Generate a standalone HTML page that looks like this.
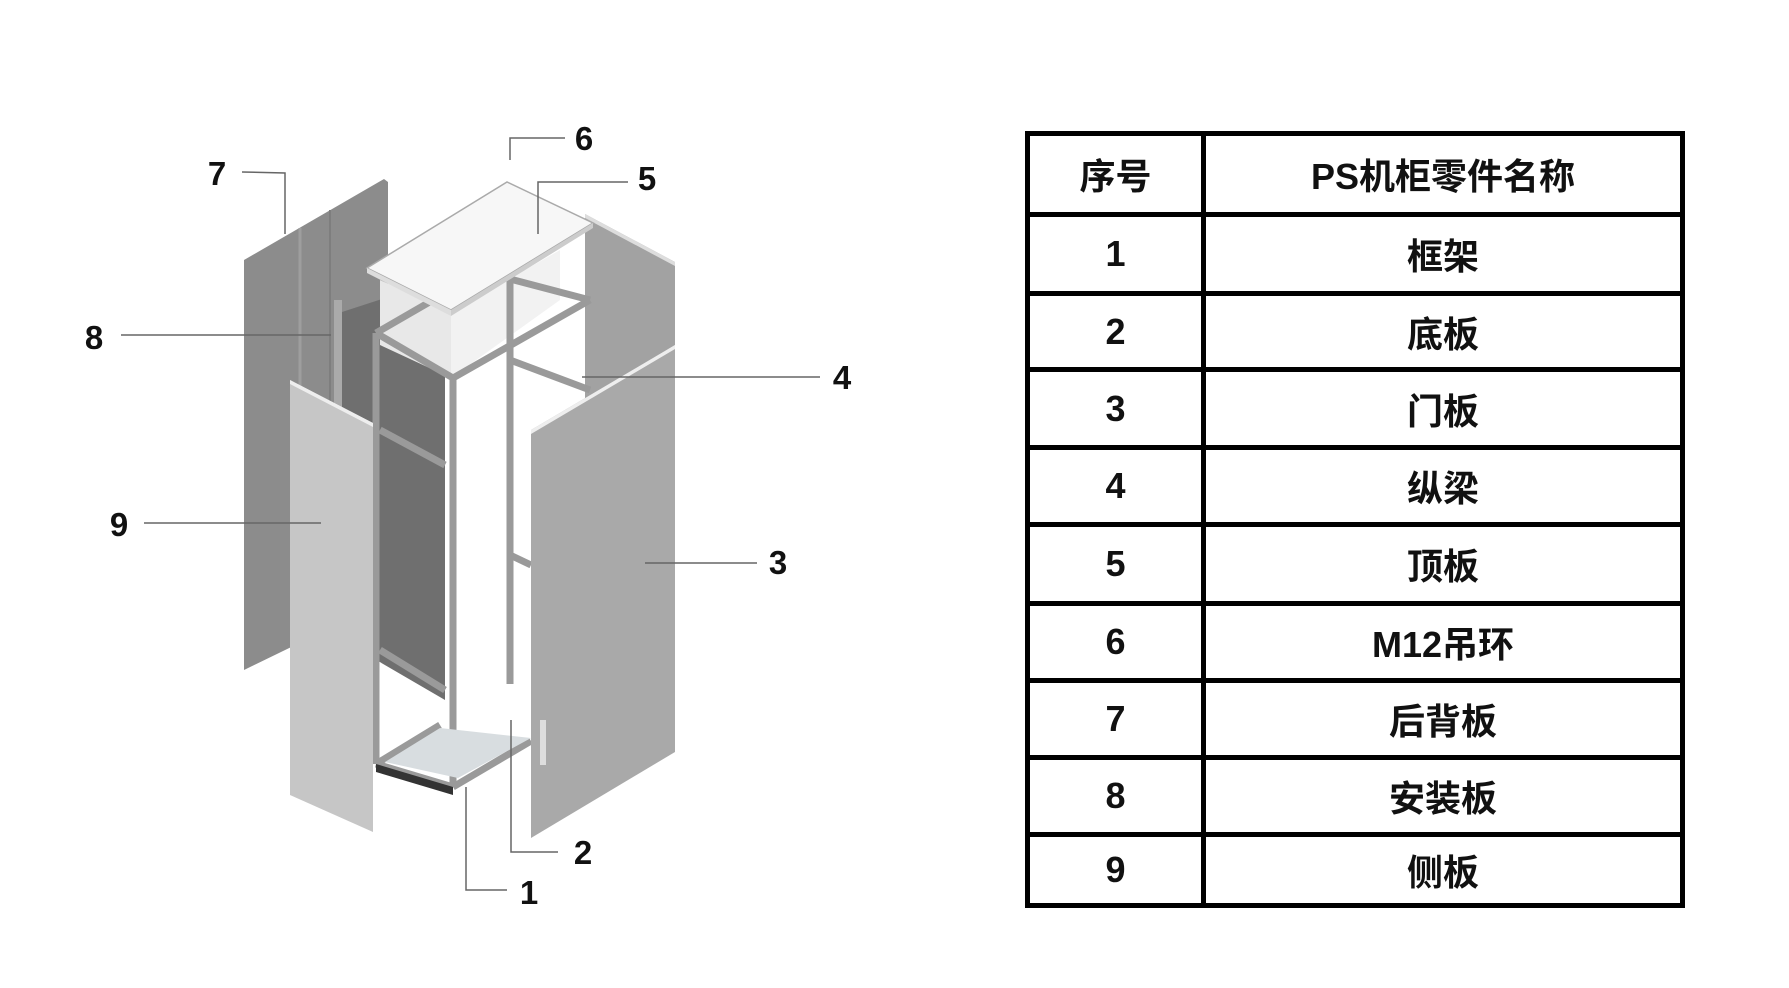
<!DOCTYPE html>
<html><head><meta charset="utf-8"><style>
body{margin:0;width:1789px;height:988px;background:#fff;overflow:hidden;position:relative;font-family:"Liberation Sans","Noto Sans CJK SC",sans-serif;}
table{position:absolute;left:1025px;top:131px;border-collapse:collapse;}
td{border:5px solid #000;text-align:center;font-weight:bold;font-size:36px;color:#111;padding:0;}
</style></head><body>
<svg width="1789" height="988" style="position:absolute;left:0;top:0">
<g stroke="none">
<polygon points="244,260 384,179 388,182 388,600 244,670" fill="#8c8c8c"/>
<line x1="300" y1="228" x2="300" y2="640" stroke="#9e9e9e" stroke-width="3"/>
<line x1="330" y1="210" x2="330" y2="620" stroke="#7e7e7e" stroke-width="2"/>
<polygon points="585,214 675,262 675,345 585,400" fill="#a2a2a2"/>
<polygon points="585,214 675,262 675,266 585,218" fill="#ddd"/>
<polygon points="342,312 410,290 445,312 445,700 342,640" fill="#6f6f6f"/>
<rect x="334" y="300" width="8" height="300" fill="#aaa"/>
<polygon points="380,280 451,312 451,378 380,345" fill="#e8e8e8"/>
<polygon points="451,312 560,250 560,300 451,378" fill="#f2f2f2"/>
<g stroke="#9a9a9a" stroke-width="7" fill="none">
<line x1="376" y1="333" x2="376" y2="764"/>
<line x1="453" y1="378" x2="453" y2="787"/>
<line x1="510" y1="279" x2="510" y2="684"/>
<line x1="376" y1="333" x2="453" y2="378"/>
<line x1="453" y1="378" x2="590" y2="300"/>
<line x1="376" y1="333" x2="440" y2="296"/>
<line x1="510" y1="279" x2="590" y2="300"/>
<line x1="376" y1="764" x2="453" y2="787"/>
<line x1="453" y1="787" x2="531" y2="741"/>
<line x1="376" y1="764" x2="440" y2="725"/>
<line x1="380" y1="430" x2="445" y2="465"/>
<line x1="380" y1="650" x2="445" y2="690"/>
<line x1="510" y1="360" x2="590" y2="390"/>
<line x1="510" y1="555" x2="531" y2="565"/>
</g>
<polygon points="385,762 440,728 531,738 458,778" fill="#d8dde0"/>
<polygon points="376,764 453,787 453,795 376,772" fill="#333"/>
<polygon points="367,268 507,182 593,223 451,310" fill="#f7f7f7" stroke="#aaa" stroke-width="1.5"/>
<polygon points="367,268 451,310 451,316 367,273" fill="#ddd"/>
<polygon points="451,310 593,223 593,228 451,316" fill="#ccc"/>
<polygon points="290,380 373,423 373,832 290,795" fill="#c6c6c6"/>
<polygon points="290,380 373,423 373,427 290,384" fill="#eee"/>
<polygon points="531,430 675,345 675,752 531,838" fill="#a9a9a9"/>
<polygon points="531,430 675,345 675,349 531,434" fill="#eee"/>
<rect x="540" y="720" width="6" height="45" fill="#ddd"/>
</g>
<g stroke="#666" stroke-width="1.5" fill="none">
<polyline points="242,172 285,173 285,234"/>
<polyline points="565,138 510,138 510,160"/>
<polyline points="628,182 538,182 538,234"/>
<line x1="121" y1="335" x2="331" y2="335"/>
<line x1="582" y1="377" x2="820" y2="377"/>
<line x1="144" y1="523" x2="321" y2="523"/>
<line x1="645" y1="563" x2="757" y2="563"/>
<polyline points="511,720 511,852 558,852"/>
<polyline points="466,787 466,890 507,890"/>
</g>
<g font-family="Liberation Sans, sans-serif" font-weight="bold" font-size="33" fill="#111" text-anchor="middle">
<text x="217" y="185">7</text>
<text x="584" y="150">6</text>
<text x="647" y="190">5</text>
<text x="94" y="349">8</text>
<text x="842" y="389">4</text>
<text x="119" y="536">9</text>
<text x="778" y="574">3</text>
<text x="583" y="864">2</text>
<text x="529" y="904">1</text>
</g>
</svg>
<table>
<tr style="height:81px"><td style="width:171px">序号</td><td style="width:474px">PS机柜零件名称</td></tr>
<tr style="height:79px"><td>1</td><td>框架</td></tr>
<tr style="height:76px"><td>2</td><td>底板</td></tr>
<tr style="height:78px"><td>3</td><td>门板</td></tr>
<tr style="height:77px"><td>4</td><td>纵梁</td></tr>
<tr style="height:79px"><td>5</td><td>顶板</td></tr>
<tr style="height:77px"><td>6</td><td>M12吊环</td></tr>
<tr style="height:77px"><td>7</td><td>后背板</td></tr>
<tr style="height:77px"><td>8</td><td>安装板</td></tr>
<tr style="height:71px"><td>9</td><td>侧板</td></tr>
</table>
</body></html>
